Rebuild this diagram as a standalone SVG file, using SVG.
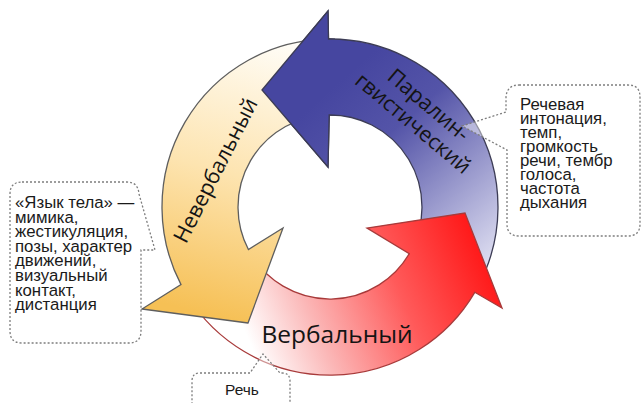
<svg xmlns="http://www.w3.org/2000/svg" width="641" height="403" viewBox="0 0 641 403">
  <defs>
    <style>
      .ring { stroke-width: 1.3; stroke-linejoin: miter; }
      .label { font-family: "Open Sans", "DejaVu Sans", sans-serif; fill: #141414; }
      .note { font-family: "Liberation Sans", Arial, sans-serif; font-size: 16.8px; fill: #1a1a1a; }
      .callout { fill: #ffffff; fill-opacity: 0.45; stroke: #7d7d7d; stroke-width: 1.3; stroke-dasharray: 2 2; }
    </style>
    <linearGradient id="gradPara" gradientUnits="userSpaceOnUse" x1="330" y1="90" x2="490" y2="270">
      <stop offset="0" stop-color="#4646a0"/>
      <stop offset="0.3" stop-color="#5454a8"/>
      <stop offset="1" stop-color="#e2e2f3"/>
    </linearGradient>
    <linearGradient id="gradVerb" gradientUnits="userSpaceOnUse" x1="480" y1="215" x2="240" y2="320">
      <stop offset="0" stop-color="#ff1010"/>
      <stop offset="0.4" stop-color="#ff5a5a"/>
      <stop offset="0.75" stop-color="#fbb8b8"/>
      <stop offset="1" stop-color="#ffffff"/>
    </linearGradient>
    <linearGradient id="gradNonverb" gradientUnits="userSpaceOnUse" x1="300" y1="45" x2="225" y2="320">
      <stop offset="0" stop-color="#fffdf7"/>
      <stop offset="0.5" stop-color="#fde4b0"/>
      <stop offset="1" stop-color="#f6c055"/>
    </linearGradient>
    <!-- blue arrow outline, reused to lay its head over the yellow tail -->
    <path id="paraShape" class="ring" fill="url(#gradPara)" stroke="#3c3c55"
          d="M 262,90 L 328,11 L 328.5,39 A 168 168 0 0 1 478.3,285.9 L 411.2,250.2 A 92 92 0 0 0 329.2,115 L 328,167 Z"/>
    <clipPath id="paraHeadClip">
      <rect x="250" y="0" width="85" height="176"/>
    </clipPath>
  </defs>

  <rect width="641" height="403" fill="#ffffff"/>

  <!-- paralinguistic (blue) -->
  <g id="node-paralinguistic">
    <use href="#paraShape"/>
  </g>

  <!-- verbal (red) -->
  <g id="node-verbal">
    <path class="ring" fill="url(#gradVerb)" stroke="#a83a3a"
          d="M 465,213 L 502,308 L 474.8,292.3 A 168 168 0 0 1 187.5,296 L 252,255.8 A 92 92 0 0 0 409.3,253.7 L 367,228 Z"/>
    <text class="label" x="337" y="343" font-size="24.5" text-anchor="middle">Вербальный</text>
  </g>

  <!-- non-verbal (yellow) -->
  <g id="node-nonverbal">
    <path class="ring" fill="url(#gradNonverb)" stroke="#5e5e5e"
          d="M 248,323 L 142,309 L 181,284.6 A 168 168 0 0 1 324.1,39.1 L 326.8,115.1 A 92 92 0 0 0 248.4,249.5 L 283,228 Z"/>
    <text class="label" font-size="21.5" text-anchor="middle" transform="translate(215,170) rotate(-63)" x="0" y="8">Невербальный</text>
  </g>

  <!-- blue head drawn again above the yellow tail, plus its label -->
  <g id="node-paralinguistic-head">
    <use href="#paraShape" clip-path="url(#paraHeadClip)"/>
    <g transform="translate(421,114) rotate(40)">
      <text class="label" font-size="21.5" text-anchor="middle" x="0" y="-4.5">Паралин-</text>
      <text class="label" font-size="21.5" text-anchor="middle" x="0" y="19.5">гвистический</text>
    </g>
  </g>

  <!-- callouts -->
  <g id="connectors">
    <path class="callout" d="M 22,182 H 127 Q 138,182 139,194 L 155,250 H 141 V 331 Q 141,343 129,343 H 22 Q 10,343 10,331 V 194 Q 10,182 22,182 Z"/>
    <path class="callout" d="M 519,85 H 628 Q 640,85 640,97 V 224 Q 640,236 628,236 H 519 Q 507,236 507,224 V 150 L 462,126 L 506,112 V 97 Q 507,85 519,85 Z"/>
    <path class="callout" d="M 200,373 H 250 L 263,354 L 280,373 H 282 Q 290,373 290,381 V 415 H 192 V 381 Q 192,373 200,373 Z"/>
  </g>

  <g id="note-body">
    <text class="note">
      <tspan x="15" y="208">«Язык тела» —</tspan>
      <tspan x="15" y="222.6">мимика,</tspan>
      <tspan x="15" y="237.2">жестикуляция,</tspan>
      <tspan x="15" y="251.8">позы, характер</tspan>
      <tspan x="15" y="266.4">движений,</tspan>
      <tspan x="15" y="281">визуальный</tspan>
      <tspan x="15" y="295.6">контакт,</tspan>
      <tspan x="15" y="310.2">дистанция</tspan>
    </text>
  </g>
  <g id="note-voice">
    <text class="note">
      <tspan x="520" y="110">Речевая</tspan>
      <tspan x="520" y="124">интонация,</tspan>
      <tspan x="520" y="138">темп,</tspan>
      <tspan x="520" y="152">громкость</tspan>
      <tspan x="520" y="166">речи, тембр</tspan>
      <tspan x="520" y="180">голоса,</tspan>
      <tspan x="520" y="194">частота</tspan>
      <tspan x="520" y="208">дыхания</tspan>
    </text>
  </g>
  <g id="note-speech">
    <text class="note" x="242" y="395" text-anchor="middle" font-size="15.5px" style="font-size:15.5px">Речь</text>
  </g>
</svg>
